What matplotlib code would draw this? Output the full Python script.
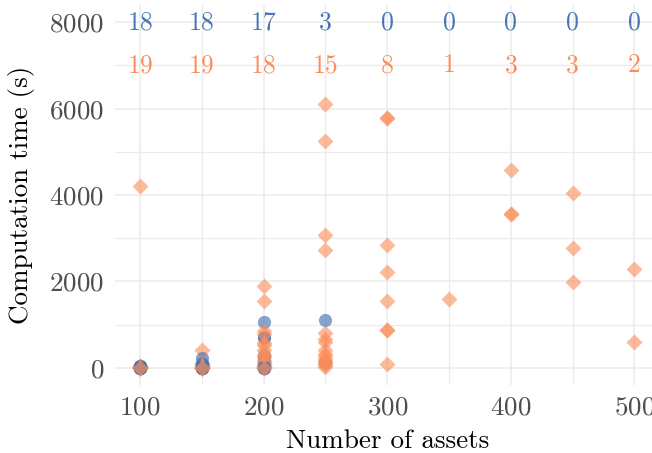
import matplotlib
matplotlib.use("Agg")
import matplotlib.pyplot as plt
from matplotlib.ticker import MultipleLocator

plt.rcParams["font.family"] = ["cmr10", "DejaVu Serif"]
plt.rcParams["axes.formatter.use_mathtext"] = True

# Data: computation time (s) per instance, by number of assets
assets = [100, 150, 200, 250, 300, 350, 400, 450, 500]

blue_times = {
    100: [2, 3, 4, 5, 5, 6, 8, 10, 12, 15, 20, 25, 30, 35, 40, 8, 6, 4],
    150: [215, 120, 80, 60, 40, 30, 20, 15, 10, 8, 6, 5, 4, 3, 3, 2, 2, 1],
    200: [1065, 710, 690, 290, 210, 140, 100, 60, 40, 20, 15, 10, 8, 5, 3, 2, 1],
    250: [1095, 140, 120],
}
orange_times = {
    100: [4200, 2, 3, 4, 5, 6, 8, 10, 12, 15, 20, 25, 30, 35, 40, 8, 6, 4, 3],
    150: [415, 120, 80, 60, 40, 30, 20, 15, 10, 8, 6, 5, 4, 3, 3, 2, 2, 1, 1],
    200: [1900, 1540, 860, 780, 580, 520, 400, 290, 240, 150, 100, 60, 40, 20, 10, 5, 3, 2],
    250: [6107, 5262, 3083, 2730, 810, 655, 590, 400, 330, 280, 200, 150, 120, 60, 20],
    300: [5785, 5785, 2845, 2222, 1546, 877, 877, 92],
    350: [1592],
    400: [4576, 3561, 3561],
    450: [4053, 2784, 1992],
    500: [2284, 592],
}

# Solved counts shown at the top
blue_counts = [18, 18, 17, 3, 0, 0, 0, 0, 0]
orange_counts = [19, 19, 18, 15, 8, 1, 3, 3, 2]

blue = "#4575b4"
orange = "#fc8d59"

fig = plt.figure(figsize=(6.52, 4.53), dpi=100)
ax = fig.add_axes([0.177, 0.150, 0.834, 0.839])

# draw points instance by instance, alternating the two methods
z = 3
for n in assets:
    bt = blue_times.get(n, [])
    ot = orange_times.get(n, [])
    for i in range(max(len(bt), len(ot))):
        if i < len(ot):
            ax.scatter([n], [ot[i]], s=66, marker="D", color=orange, alpha=0.6,
                       linewidths=0, zorder=z)
            z += 0.001
        if i < len(bt):
            ax.scatter([n], [bt[i]], s=90, marker="o", color=blue, alpha=0.65,
                       linewidths=0, zorder=z)
            z += 0.001

for n, c in zip(assets, blue_counts):
    ax.text(n, 8000, str(c), color=blue, fontsize=18.5, ha="center", va="center", zorder=5)
for n, c in zip(assets, orange_counts):
    ax.text(n, 7000, str(c), color=orange, fontsize=18.5, ha="center", va="center", zorder=5)

ax.set_xlim(80, 520)
ax.set_ylim(-400, 8400)
ax.xaxis.set_major_locator(MultipleLocator(100))
ax.xaxis.set_minor_locator(MultipleLocator(50))
ax.yaxis.set_major_locator(MultipleLocator(2000))
ax.yaxis.set_minor_locator(MultipleLocator(1000))
ax.grid(which="major", color="#ebebeb", linewidth=1.1, zorder=0)
ax.grid(which="minor", color="#ebebeb", linewidth=0.9, zorder=0)
ax.set_axisbelow(True)
for s in ax.spines.values():
    s.set_visible(False)
ax.tick_params(which="both", length=0, labelsize=19.5, labelcolor="#4d4d4d")
ax.tick_params(axis="x", pad=8)
ax.tick_params(axis="y", pad=8)

ax.set_xlabel("Number of assets", fontsize=19.5, labelpad=7)
ax.set_ylabel("Computation time (s)", fontsize=19.5, labelpad=10)

fig.savefig("out.png", dpi=100)
